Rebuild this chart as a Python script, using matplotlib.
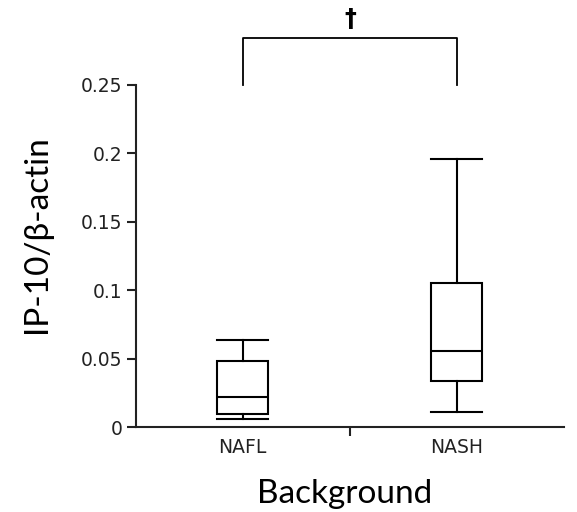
import matplotlib
matplotlib.use("Agg")
import matplotlib.pyplot as plt
from matplotlib.ticker import FixedLocator

# Summary statistics per group: whisker low, Q1, median, Q3, whisker high
groups = ["NAFL", "NASH"]
whisker_low = [0.0058, 0.0112]
q1 = [0.0097, 0.0338]
median = [0.0221, 0.0557]
q3 = [0.0486, 0.1055]
whisker_high = [0.0637, 0.1956]

y_ticks = [0, 0.05, 0.1, 0.15, 0.2, 0.25]
y_tick_labels = ["0", "0.05", "0.1", "0.15", "0.2", "0.25"]
y_label = "IP-10/\u03b2-actin"
x_label = "Background"
sig_mark = "\u2020"

fig = plt.figure(figsize=(5.77, 5.12), dpi=100)
ax = fig.add_axes([0.2352, 0.1654, 0.7423, 0.6691])

stats = []
for i, g in enumerate(groups):
    stats.append(dict(label=g, whislo=whisker_low[i], q1=q1[i], med=median[i],
                      q3=q3[i], whishi=whisker_high[i], fliers=[]))

lw = 1.5
ax.bxp(stats, positions=range(len(groups)), widths=0.238, showfliers=False,
       patch_artist=True, manage_ticks=False,
       boxprops=dict(facecolor="white", edgecolor="black", linewidth=lw),
       medianprops=dict(color="black", linewidth=lw),
       whiskerprops=dict(color="black", linewidth=lw),
       capprops=dict(color="black", linewidth=lw), capwidths=0.238)

ax.set_xlim(-0.5, 1.5)
ax.set_ylim(0, 0.25)

for side in ("top", "right"):
    ax.spines[side].set_visible(False)
for side in ("left", "bottom"):
    ax.spines[side].set_linewidth(1.5)
    ax.spines[side].set_color("#222222")

tick_font = dict(family="DejaVu Sans", size=13.5)
ax.set_yticks(y_ticks)
ax.set_yticklabels(y_tick_labels, fontdict=tick_font, color="#222222")
ax.tick_params(axis="y", direction="out", length=6.5, width=1.5, pad=3,
               colors="#222222")

ax.set_xticks(range(len(groups)))
ax.set_xticklabels(groups, fontdict=tick_font, color="#222222")
ax.tick_params(axis="x", which="major", length=0, pad=8)
ax.xaxis.set_minor_locator(FixedLocator([0.5]))
ax.tick_params(axis="x", which="minor", direction="out", length=6.5, width=1.5,
               colors="#222222")

label_font = dict(family="Lato", size=24)
ax.set_ylabel(y_label, fontdict=label_font)
ax.set_xlabel(x_label, fontdict=label_font)
ax.yaxis.set_label_coords(-0.195, 0.563)
ax.xaxis.set_label_coords(0.4887, -0.150)

# significance bracket above the two groups
bracket_top = 0.284
bracket_bottom = 0.25
ax.plot([0, 0, 1, 1], [bracket_bottom, bracket_top, bracket_top, bracket_bottom],
        color="black", linewidth=1.3, clip_on=False)
ax.text(0.5, bracket_top + 0.005, sig_mark, ha="center", va="bottom",
        fontsize=17, fontweight="bold", family="DejaVu Sans")

fig.savefig("out.png", dpi=100)
